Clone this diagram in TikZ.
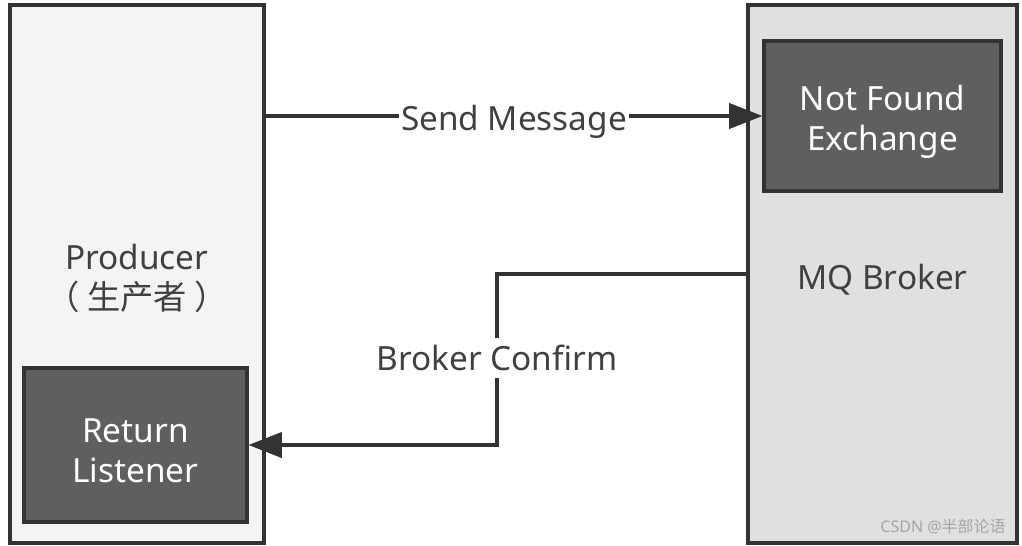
\documentclass[tikz,border=0pt]{standalone}
\usepackage{fontspec}
\setmainfont{Noto Sans}
\newfontfamily\cjk{Noto Sans CJK SC}
\usepackage{tikz}
\usetikzlibrary{arrows.meta,positioning}
\usepackage{xcolor}
\definecolor{mqdark}{RGB}{51,51,51}
\definecolor{mqgrey}{RGB}{95,95,95}
\definecolor{mqlight}{RGB}{244,244,244}
\definecolor{mqbroker}{RGB}{224,224,224}
\definecolor{mqtext}{RGB}{64,64,64}
\tikzstyle{arrow} = [line width=2.3pt, draw=mqdark, -{Triangle[length=25pt,width=19pt]}]
\tikzstyle{wire} = [line width=2.3pt, draw=mqdark]
\tikzstyle{outerbox} = [rectangle, draw=mqdark, line width=2.3pt]
\tikzstyle{innerbox} = [rectangle, draw=mqdark, fill=mqgrey, line width=2.3pt]
\tikzstyle{boxtext} = [align=center, inner sep=0pt, font=\fontsize{25}{30}\selectfont]
\tikzstyle{msglabel} = [fill=white, text=mqtext, inner xsep=1.5pt, inner ysep=5pt, font=\fontsize{25}{30}\selectfont]

\begin{document}
\begin{tikzpicture}[x=0.75pt, y=-0.75pt]
\useasboundingbox (0,0) rectangle (1022,546);
% Producer at left
\node (producer) [outerbox, fill=mqlight, minimum width=190.5pt, minimum height=403.5pt] at (137,274) {};
\node (producertext) [boxtext, text=mqtext] at ([yshift=-3pt]producer.center) {Producer\\{\cjk （ 生产者 ）}};
\node (listener) [innerbox, minimum width=167.25pt, minimum height=115.5pt] at (135.5,445) {};
\node (listenertext) [boxtext, text=white] at ([yshift=-4pt]listener.center) {Return\\Listener};

% Broker at right
\node (broker) [outerbox, fill=mqbroker, minimum width=201.75pt, minimum height=403.5pt] at (882.5,274) {};
\node (brokertext) [boxtext, text=mqtext] at ([yshift=-4.5pt]broker.center) {MQ Broker};
\node (exchange) [innerbox, minimum width=177.75pt, minimum height=112.5pt] at (882.5,116) {};
\node (exchangetext) [boxtext, text=white] at ([yshift=-4.5pt]exchange.center) {Not Found\\Exchange};

% Connections
\draw[arrow] (producer.east |- exchange.west) -- node[msglabel, yshift=-4.5pt] {Send Message} (exchange.west);
\node (confirm) [msglabel] at (497,358) {Broker Confirm};
\draw[wire] (broker.west) -| (confirm.north);
\draw[arrow] (confirm.south) |- (listener.east);

% Watermark
\node (mark) [anchor=south east, text=gray!70, inner sep=0pt, font=\fontsize{12}{14}\selectfont] at (1006,534) {CSDN @{\cjk 半部论语}};
\end{tikzpicture}
\end{document}
